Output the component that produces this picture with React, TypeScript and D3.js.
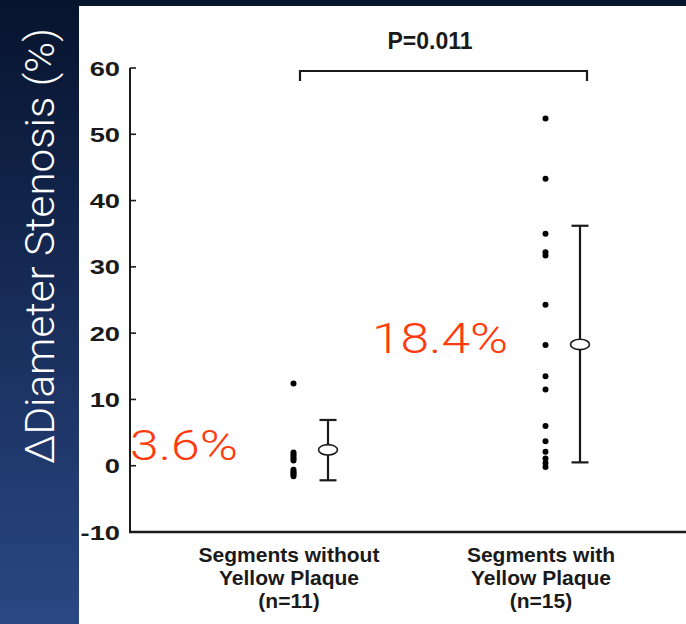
import React from "react";
import * as d3 from "d3";

const categories = ["without", "with"];
const categoryLabels = [
  ["Segments without", "Yellow Plaque", "(n=11)"],
  ["Segments with", "Yellow Plaque", "(n=15)"],
];
const withoutValues = [12.4, 2.0, 1.7, 1.4, 1.1, 0.8, -0.6, -0.9, -1.1, -1.3, -1.6];
const withValues = [52.4, 43.3, 35.0, 32.2, 31.7, 24.3, 18.2, 13.5, 11.5, 6.0, 3.7, 2.1, 1.1, 0.4, -0.2];
const means = [2.4, 18.3];
const upperBars = [6.9, 36.2];
const lowerBars = [-2.2, 0.5];
const yTicks = [-10, 0, 10, 20, 30, 40, 50, 60];
const pLabel = "P=0.011";
const meanLabels = ["3.6%", "18.4%"];
const yTitle = "\u0394Diameter Stenosis (%)";

const W = 686;
const H = 624;

export default function App() {
  const y = d3.scaleLinear().domain([-10, 60]).range([532, 68]);
  const x = d3.scalePoint<string>().domain(categories).range([289, 541]);
  const groups = [withoutValues, withValues];
  const dotOff = 4.5;
  const barOff = 39;
  const capHalf = 8.5;
  const axisX = 130;
  const ink = "#1a1a1a";
  const bold = "Liberation Sans, Arial, sans-serif";

  return (
    <div style={{ position: "absolute", left: 0, top: 0 }}>
      <svg width={W} height={H} viewBox={`0 0 ${W} ${H}`} style={{ display: "block" }}>
        <defs>
          <linearGradient id="bg" x1="0" y1="0" x2="0" y2="1">
            <stop offset="0" stopColor="#07142e" />
            <stop offset="0.45" stopColor="#162a55" />
            <stop offset="1" stopColor="#2a4884" />
          </linearGradient>
        </defs>
        <rect x={0} y={0} width={W} height={H} fill="url(#bg)" />
        <rect x={0} y={0} width={W} height={6} fill="#06142e" />
        <rect x={79} y={6} width={W - 79} height={H - 6} fill="#ffffff" />

        <text
          transform={`translate(54,246) rotate(-90)`}
          textAnchor="middle"
          fill="#ffffff"
          fontFamily="Roboto, Liberation Sans, Arial, sans-serif"
          fontWeight={300}
          fontSize={40}
          textLength={436}
          lengthAdjust="spacingAndGlyphs"
        >
          {yTitle}
        </text>

        {/* y axis */}
        <line x1={axisX} x2={axisX} y1={y(60)} y2={y(-10) + 1} stroke={ink} strokeWidth={2} />
        {yTicks.map((t) => (
          <g key={t}>
            {t > -10 && (
              <line x1={axisX} x2={axisX + 6} y1={y(t)} y2={y(t)} stroke={ink} strokeWidth={1.6} />
            )}
            <text
              transform={`translate(120,${y(t)}) scale(1.3,1)`}
              textAnchor="end"
              dy="0.36em"
              fontFamily={bold}
              fontWeight="bold"
              fontSize={21}
              fill={ink}
            >
              {t}
            </text>
          </g>
        ))}
        {/* x axis */}
        <line x1={axisX - 1} x2={W} y1={y(-10)} y2={y(-10)} stroke={ink} strokeWidth={2.4} />

        {/* category labels */}
        {categories.map((c, i) => (
          <text
            key={c}
            textAnchor="middle"
            fontFamily={bold}
            fontWeight="bold"
            fontSize={21}
            fill={ink}
          >
            {categoryLabels[i].map((line, j) => (
              <tspan key={j} x={x(c)!} y={562 + j * 23}>
                {line}
              </tspan>
            ))}
          </text>
        ))}

        {/* dots */}
        {categories.map((c, i) =>
          groups[i].map((v, j) => (
            <circle key={`${c}-${j}`} cx={x(c)! + dotOff} cy={y(v)} r={3} fill="#000" />
          ))
        )}

        {/* error bars */}
        {categories.map((c, i) => {
          const bx = x(c)! + barOff;
          return (
            <g key={`eb-${c}`} stroke={ink} strokeWidth={2.2} fill="none">
              <line x1={bx} x2={bx} y1={y(upperBars[i])} y2={y(lowerBars[i])} />
              <line x1={bx - capHalf} x2={bx + capHalf} y1={y(upperBars[i])} y2={y(upperBars[i])} />
              <line x1={bx - capHalf} x2={bx + capHalf} y1={y(lowerBars[i])} y2={y(lowerBars[i])} />
              <ellipse cx={bx} cy={y(means[i])} rx={9.5} ry={5.2} fill="#fff" strokeWidth={1.6} />
            </g>
          );
        })}

        {/* significance bracket */}
        <path
          d={`M${x(categories[0])! + 11},81 V71 H${x(categories[1])! + 46} V81`}
          fill="none"
          stroke={ink}
          strokeWidth={2.2}
        />
        <text
          x={430}
          y={49}
          textAnchor="middle"
          fontFamily={bold}
          fontWeight="bold"
          fontSize={23}
          fill={ink}
        >
          {pLabel}
        </text>

        {/* mean annotations */}
        <text
          x={130}
          y={460}
          fontFamily="Roboto, DejaVu Sans, sans-serif"
          fontWeight={300}
          fontSize={42}
          fill="#ff3a0c"
          textLength={108}
          lengthAdjust="spacingAndGlyphs"
        >
          {meanLabels[0]}
        </text>
        <text
          x={372}
          y={353}
          fontFamily="Roboto, DejaVu Sans, sans-serif"
          fontWeight={300}
          fontSize={42}
          fill="#ff3a0c"
          textLength={136}
          lengthAdjust="spacingAndGlyphs"
        >
          {meanLabels[1]}
        </text>
      </svg>
    </div>
  );
}
